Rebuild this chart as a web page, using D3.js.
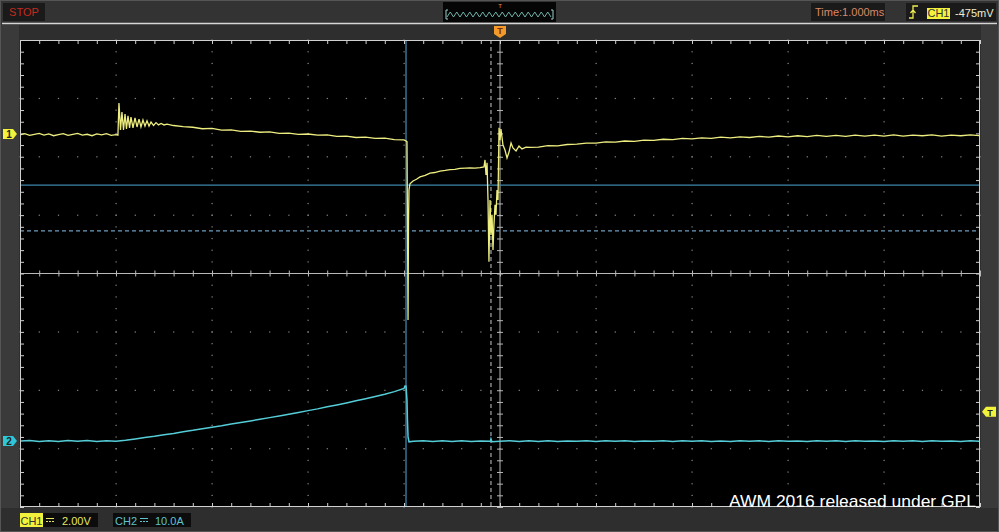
<!DOCTYPE html>
<html><head><meta charset="utf-8">
<script src="https://cdn.jsdelivr.net/npm/d3@7"></script>
<style>
body{margin:0;background:#2e2e2e;overflow:hidden}
svg{display:block}
text{font-family:"Liberation Sans",Arial,sans-serif}
</style>
</head><body><svg id="c" width="999" height="532"></svg>
<script>
// ---------------- DATA ----------------
const timeRangeMs = [-5, 5];          // 10 div x 1.000 ms
const ch1RangeV  = [-12.78, 3.22];    // 2.00 V/div, 8 div
const ch2RangeA  = [-11.31, 68.69];   // 10.0 A/div, 8 div
const cursorTimesMs = [-0.979, -0.094];
const cursorLevelsV = [-1.75, -3.32];
const triggerLevelA = 5.0;
const statusLabel = "STOP";
const timebaseLabel = "Time:1.000ms";
const triggerSource = "CH1";
const triggerLabel = "-475mV";
const ch1Scale = "2.00V";
const ch2Scale = "10.0A";
const watermark = "AWM 2016 released under GPL";

const ch1Trace = [
 [-5.00,-0.03],[-4.95,0.01],[-4.90,-0.05],[-4.85,-0.01],[-4.80,0.02],[-4.75,-0.04],[-4.70,0.00],[-4.65,-0.06],[-4.60,-0.02],[-4.55,0.01],[-4.50,-0.05],[-4.45,-0.01],[-4.40,0.02],[-4.35,-0.04],[-4.30,-0.01],[-4.25,-0.06],[-4.20,0.00],[-4.15,-0.03],[-4.10,0.01],[-4.05,-0.05],[-4.00,-0.02],[-3.98,-0.04],
 [-3.969,1.06],[-3.953,0.14],[-3.938,0.75],[-3.922,0.14],[-3.906,0.68],[-3.891,0.17],[-3.875,0.62],[-3.859,0.21],[-3.844,0.58],[-3.823,0.21],[-3.802,0.55],[-3.781,0.24],[-3.760,0.51],[-3.740,0.24],[-3.719,0.48],[-3.698,0.27],[-3.677,0.45],[-3.656,0.27],[-3.635,0.41],[-3.609,0.29],[-3.583,0.39],[-3.557,0.31],[-3.531,0.36],[-3.500,0.31],[-3.469,0.34],[-3.40,0.29],
 [-3.30,0.25],[-3.20,0.23],[-3.10,0.18],[-3.00,0.19],[-2.90,0.13],[-2.80,0.14],[-2.70,0.09],[-2.60,0.10],[-2.50,0.06],[-2.40,0.07],[-2.30,0.02],[-2.20,0.03],[-2.10,-0.01],[-2.00,0.00],[-1.90,-0.04],[-1.80,-0.03],[-1.70,-0.08],[-1.60,-0.07],[-1.50,-0.12],[-1.40,-0.11],[-1.30,-0.15],[-1.20,-0.14],[-1.10,-0.19],[-1.00,-0.20],[-0.979,-0.24],
 [-0.969,-0.26],[-0.963,-3.50],[-0.958,-6.37],[-0.953,-3.00],[-0.948,-1.92],[-0.938,-1.71],[-0.906,-1.61],[-0.870,-1.55],[-0.833,-1.47],[-0.780,-1.42],[-0.729,-1.34],[-0.680,-1.32],[-0.625,-1.27],[-0.570,-1.25],[-0.521,-1.22],[-0.470,-1.21],[-0.417,-1.18],[-0.360,-1.17],[-0.313,-1.16],[-0.260,-1.17],[-0.208,-1.15],[-0.167,-1.13],
 [-0.156,-0.89],[-0.146,-1.40],[-0.135,-0.99],[-0.125,-2.26],[-0.115,-4.38],[-0.104,-2.26],[-0.094,-3.46],[-0.083,-2.77],[-0.073,-3.97],[-0.063,-3.12],[-0.052,-2.43],[-0.042,-2.77],[-0.031,-1.92],[-0.021,-2.26],[-0.010,0.21],[0.000,-0.21],[0.010,0.17],
 [0.031,-0.38],[0.052,-0.55],[0.073,-0.82],[0.094,-0.62],[0.115,-0.31],[0.135,-0.48],[0.167,-0.58],[0.198,-0.41],[0.229,-0.51],[0.271,-0.45],[0.313,-0.46],
 [0.40,-0.45],[0.50,-0.40],[0.60,-0.41],[0.70,-0.36],[0.80,-0.35],[0.90,-0.31],[1.00,-0.31],[1.10,-0.27],[1.20,-0.28],[1.30,-0.24],[1.40,-0.25],[1.50,-0.21],[1.60,-0.22],[1.70,-0.18],[1.80,-0.19],[1.90,-0.15],[2.00,-0.17],[2.10,-0.13],[2.20,-0.15],[2.30,-0.11],[2.40,-0.13],[2.50,-0.10],[2.60,-0.12],[2.70,-0.08],[2.80,-0.11],[2.90,-0.07],[3.00,-0.10],[3.10,-0.06],[3.20,-0.09],[3.30,-0.05],[3.40,-0.08],[3.50,-0.05],[3.60,-0.08],[3.70,-0.04],[3.80,-0.07],[3.90,-0.04],[4.00,-0.07],[4.10,-0.03],[4.20,-0.07],[4.30,-0.04],[4.40,-0.06],[4.50,-0.03],[4.60,-0.07],[4.70,-0.04],[4.80,-0.06],[4.90,-0.03],[5.00,-0.06]
];

const ch2Trace = [
 [-5.00,0.00],[-4.90,0.10],[-4.80,-0.08],[-4.70,0.05],[-4.60,-0.10],[-4.50,0.08],[-4.40,-0.05],[-4.30,0.10],[-4.20,-0.07],[-4.10,0.04],[-4.00,-0.03],[-3.95,0.05],
 [-3.90,0.12],[-3.80,0.35],[-3.70,0.60],[-3.60,0.82],[-3.50,1.08],[-3.40,1.30],[-3.30,1.58],[-3.20,1.82],[-3.10,2.10],[-3.00,2.36],[-2.90,2.60],[-2.80,2.90],[-2.70,3.15],[-2.60,3.42],[-2.50,3.72],[-2.40,4.00],[-2.30,4.28],[-2.20,4.58],[-2.10,4.88],[-2.00,5.20],[-1.90,5.50],[-1.80,5.85],[-1.70,6.18],[-1.60,6.52],[-1.50,6.88],[-1.40,7.25],[-1.30,7.62],[-1.20,8.00],[-1.10,8.45],[-1.00,9.00],[-0.990,9.42],
 [-0.979,9.40],[-0.969,7.00],[-0.964,3.60],[-0.958,0.70],[-0.948,-0.15],
 [-0.90,-0.05],[-0.80,0.03],[-0.70,-0.10],[-0.60,0.02],[-0.50,-0.08],[-0.40,0.04],[-0.30,-0.09],[-0.20,0.01],[-0.10,-0.06],[-0.094,0.35],[-0.084,-0.12],[0.00,-0.04],[0.10,0.03],[0.20,-0.09],[0.30,0.02],[0.40,-0.07],[0.50,0.04],[0.60,-0.08],[0.70,0.01],[0.80,-0.06],[0.90,0.03],[1.00,-0.09],[1.10,0.02],[1.20,-0.05],[1.30,0.04],[1.40,-0.08],[1.50,0.01],[1.60,-0.06],[1.70,0.03],[1.80,-0.09],[1.90,0.02],[2.00,-0.05],[2.10,0.04],[2.20,-0.07],[2.30,0.01],[2.40,-0.08],[2.50,0.03],[2.60,-0.05],[2.70,0.02],[2.80,-0.09],[2.90,0.04],[3.00,-0.06],[3.10,0.01],[3.20,-0.08],[3.30,0.03],[3.40,-0.05],[3.50,0.02],[3.60,-0.07],[3.70,0.04],[3.80,-0.06],[3.90,0.01],[4.00,-0.08],[4.10,0.03],[4.20,-0.05],[4.30,0.02],[4.40,-0.09],[4.50,0.03],[4.60,-0.06],[4.70,0.01],[4.80,-0.07],[4.90,0.04],[5.00,-0.05]
];

// ---------------- LAYOUT ----------------
const L = 20, R = 980, T = 40, B = 507;
const svg = d3.select("#c");
const x  = d3.scaleLinear().domain(timeRangeMs).range([L, R]);
const y1 = d3.scaleLinear().domain(ch1RangeV).range([B, T]);
const y2 = d3.scaleLinear().domain(ch2RangeA).range([B, T]);
const dx = d3.scaleLinear().domain([0, 10]).range([L, R]);
const dy = d3.scaleLinear().domain([0, 8]).range([T, B]);

const YEL = "#eeee80", CYN = "#55cdd8", CUR = "#3f86ad";

// background panels
svg.append("rect").attr("x",0.5).attr("y",0.5).attr("width",998).attr("height",531)
   .attr("fill","#2e2e2e").attr("stroke","#555");
svg.append("rect").attr("x",1).attr("y",1).attr("width",997).attr("height",22).attr("fill","#333");
svg.append("rect").attr("x",1).attr("y",25).attr("width",18).attr("height",483).attr("fill","#3a3a3a");
svg.append("rect").attr("x",981).attr("y",25).attr("width",17).attr("height",483).attr("fill","#3a3a3a");
svg.append("line").attr("x1",2).attr("x2",997).attr("y1",23.5).attr("y2",23.5)
   .attr("stroke","#d6d6d6").attr("stroke-width",1.6);

// plot area
svg.append("rect").attr("x",L).attr("y",T).attr("width",R-L).attr("height",B-T).attr("fill","#000");

const gGrid = svg.append("g");
// dotted major grid
const minorY = d3.range(0, 8.001, 0.2), minorX = d3.range(0, 10.001, 0.2);
[1,2,3,4,6,7,8,9].forEach(i => {
  gGrid.selectAll(null).data(minorY).enter().append("rect")
    .attr("x", dx(i)-0.5).attr("y", d => dy(d)-0.5).attr("width",1.2).attr("height",1.2).attr("fill","#8a8a8a");
});
[1,2,3,5,6,7].forEach(k => {
  gGrid.selectAll(null).data(minorX).enter().append("rect")
    .attr("x", d => dx(d)-0.5).attr("y", dy(k)-0.5).attr("width",1.2).attr("height",1.2).attr("fill","#8a8a8a");
});

// centre axes with ticks
const axCol = "#b8b8b8";
gGrid.append("line").attr("x1",dx(5)).attr("x2",dx(5)).attr("y1",T).attr("y2",B).attr("stroke",axCol);
gGrid.append("line").attr("x1",L).attr("x2",R).attr("y1",dy(4)).attr("y2",dy(4)).attr("stroke",axCol);
const cV = svg.append("g").attr("transform",`translate(${dx(5)-3},0)`)
  .call(d3.axisRight(dy).tickValues(minorY).tickSize(6).tickFormat(""));
const cH = svg.append("g").attr("transform",`translate(0,${dy(4)-3})`)
  .call(d3.axisBottom(dx).tickValues(minorX).tickSize(6).tickFormat(""));
[cV,cH].forEach(g => { g.select(".domain").remove(); g.selectAll("line").attr("stroke",axCol); });

// frame ticks (inward)
const fr = "#d0d0d0";
const aT = svg.append("g").attr("transform",`translate(0,${T})`).call(d3.axisBottom(dx).tickValues(minorX).tickSize(4).tickFormat(""));
const aB = svg.append("g").attr("transform",`translate(0,${B})`).call(d3.axisTop(dx).tickValues(minorX).tickSize(4).tickFormat(""));
const aL = svg.append("g").attr("transform",`translate(${L},0)`).call(d3.axisRight(dy).tickValues(minorY).tickSize(4).tickFormat(""));
const aR = svg.append("g").attr("transform",`translate(${R},0)`).call(d3.axisLeft(dy).tickValues(minorY).tickSize(4).tickFormat(""));
[aT,aB,aL,aR].forEach(g => { g.select(".domain").remove(); g.selectAll("line").attr("stroke",fr); });
svg.append("rect").attr("x",L+0.5).attr("y",T+0.5).attr("width",R-L-1).attr("height",B-T-1)
   .attr("fill","none").attr("stroke",fr);

// cursors
svg.append("defs").append("clipPath").attr("id","pc").append("rect")
   .attr("x",L+1).attr("y",T+1).attr("width",R-L-2).attr("height",B-T-2);
const gc = svg.append("g").attr("clip-path","url(#pc)");
gc.append("line").attr("x1",L).attr("x2",R).attr("y1",y1(cursorLevelsV[0])).attr("y2",y1(cursorLevelsV[0]))
  .attr("stroke",CUR).attr("stroke-width",1.3);
gc.append("line").attr("x1",L).attr("x2",R).attr("y1",y1(cursorLevelsV[1])).attr("y2",y1(cursorLevelsV[1]))
  .attr("stroke","#6f9cbc").attr("stroke-width",1.2).attr("stroke-dasharray","4,3");
gc.append("line").attr("x1",x(cursorTimesMs[0])).attr("x2",x(cursorTimesMs[0])).attr("y1",T).attr("y2",B)
  .attr("stroke",CUR).attr("stroke-width",1.3);
gc.append("line").attr("x1",x(cursorTimesMs[1])).attr("x2",x(cursorTimesMs[1])).attr("y1",T).attr("y2",B)
  .attr("stroke","#b0b8c0").attr("stroke-width",1.1).attr("stroke-dasharray","4,3");

// traces
gc.append("path").datum(ch2Trace).attr("fill","none").attr("stroke",CYN).attr("stroke-width",1.5)
  .attr("d", d3.line().x(d => x(d[0])).y(d => y2(d[1])));
gc.append("path").datum(ch1Trace).attr("fill","none").attr("stroke",YEL).attr("stroke-width",1.3)
  .attr("d", d3.line().x(d => x(d[0])).y(d => y1(d[1])));

// watermark
svg.append("text").attr("x",976).attr("y",B).attr("text-anchor","end")
  .attr("font-size",17).attr("fill","#fff").attr("textLength",247).attr("lengthAdjust","spacingAndGlyphs")
  .text(watermark);

// channel markers (left)
function leftMarker(yy, col, label){
  svg.append("path").attr("d",`M3,${yy-5}H13L17,${yy}L13,${yy+5}H3Z`).attr("fill",col);
  svg.append("text").attr("x",9).attr("y",yy+4).attr("text-anchor","middle").attr("font-size",10)
     .attr("font-weight","bold").attr("fill","#222").text(label);
}
leftMarker(y1(0), "#f2f23c", "1");
leftMarker(y2(0), "#2fc6d8", "2");
// trigger level marker (right)
const ty = y2(triggerLevelA);
svg.append("path").attr("d",`M996,${ty-5}H986L982,${ty}L986,${ty+5}H996Z`).attr("fill","#f2f23c");
svg.append("text").attr("x",990).attr("y",ty+4).attr("text-anchor","middle").attr("font-size",9)
   .attr("font-weight","bold").attr("fill","#222").text("T");
// trigger position marker (top)
const tx = x(0);
svg.append("path").attr("d",`M${tx-6},26H${tx+6}V34L${tx},38L${tx-6},34Z`).attr("fill","#f39a2a");
svg.append("text").attr("x",tx).attr("y",34).attr("text-anchor","middle").attr("font-size",9)
   .attr("font-weight","bold").attr("fill","#7a2a10").text("T");

// top bar: STOP
svg.append("rect").attr("x",3).attr("y",3).attr("width",42).attr("height",18).attr("fill","#1a1a1a");
svg.append("text").attr("x",24).attr("y",16).attr("text-anchor","middle").attr("font-size",11)
   .attr("fill","#c42a1e").text(statusLabel);
// top bar: memory strip
svg.append("rect").attr("x",443).attr("y",2).attr("width",113).attr("height",20).attr("fill","#050505");
svg.append("text").attr("x",tx).attr("y",8).attr("text-anchor","middle").attr("font-size",6)
   .attr("fill","#e08a3a").text("T");
const zz = d3.range(447, 553, 3.25).map((px,i) => [px, i%2 ? 12 : 17]);
svg.append("path").attr("d", d3.line()(zz)).attr("fill","none").attr("stroke","#6fb3aa").attr("stroke-width",1);
svg.append("path").attr("d","M448,10H446V19H448 M551,10H553V19H551").attr("fill","none").attr("stroke","#9cd0cc").attr("stroke-width",1);
// top bar: timebase
svg.append("rect").attr("x",811).attr("y",3).attr("width",74).attr("height",18).attr("fill","#1a1a1a");
svg.append("text").attr("x",815).attr("y",16).attr("font-size",11).attr("fill","#d98866").text(timebaseLabel);
// top bar: trigger
svg.append("rect").attr("x",906).attr("y",3).attr("width",90).attr("height",18).attr("fill","#1a1a1a");
svg.append("path").attr("d","M909,18H913V6H918 M910.5,13L913,10L915.5,13").attr("fill","none")
   .attr("stroke","#eeee50").attr("stroke-width",1.3);
svg.append("rect").attr("x",927).attr("y",8).attr("width",23).attr("height",11).attr("fill","#f2f23c");
svg.append("text").attr("x",938.5).attr("y",17).attr("text-anchor","middle").attr("font-size",11)
   .attr("fill","#333").text(triggerSource);
svg.append("text").attr("x",955).attr("y",17).attr("font-size",11).attr("fill","#eeeed0").text(triggerLabel);

// bottom bar
function dcSym(x0, col){
  svg.append("line").attr("x1",x0).attr("x2",x0+8).attr("y1",518.5).attr("y2",518.5).attr("stroke",col);
  svg.append("line").attr("x1",x0).attr("x2",x0+8).attr("y1",521.5).attr("y2",521.5).attr("stroke",col).attr("stroke-dasharray","2,1");
}
svg.append("rect").attr("x",20).attr("y",513).attr("width",78).attr("height",14).attr("fill","#0c0c0c");
svg.append("rect").attr("x",20).attr("y",513).attr("width",23).attr("height",14).attr("fill","#f2f23c");
svg.append("text").attr("x",31.5).attr("y",524.5).attr("text-anchor","middle").attr("font-size",11).attr("fill","#333").text("CH1");
dcSym(46, "#e8e860");
svg.append("text").attr("x",62).attr("y",524.5).attr("font-size",11).attr("fill","#e8e860").text(ch1Scale);
svg.append("rect").attr("x",113).attr("y",513).attr("width",78).attr("height",14).attr("fill","#0c0c0c");
svg.append("text").attr("x",115).attr("y",524.5).attr("font-size",11).attr("fill","#5fc2cc").text("CH2");
dcSym(140, "#5fc2cc");
svg.append("text").attr("x",155).attr("y",524.5).attr("font-size",11).attr("fill","#5fc2cc").text(ch2Scale);
</script>
</body></html>
